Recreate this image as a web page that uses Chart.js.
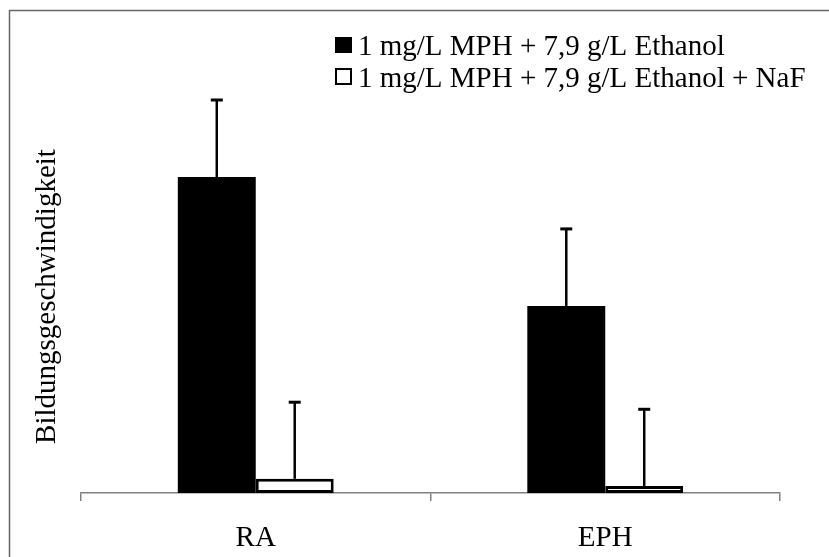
<!DOCTYPE html>
<html lang="de">
<head>
<meta charset="UTF-8">
<title>Bildungsgeschwindigkeit</title>
<script src="https://cdn.jsdelivr.net/npm/chart.js"></script>
<style>
    html, body { margin: 0; padding: 0; background: #fff; }
    #wrap { width: 829px; height: 557px; }
</style>
</head>
<body>
<div id="wrap"><canvas id="grafico"></canvas></div>
<script>
    // Werte (y-Achse ohne Skala, 0..100)
    var kategorien = ['RA', 'EPH'];
    var serieNamen = ['1 mg/L MPH + 7,9 g/L Ethanol', '1 mg/L MPH + 7,9 g/L Ethanol + NaF'];
    var ohneNaF = [80.4, 47.6];
    var mitNaF = [3.6, 1.8];
    var fehlerOhneNaF = [19.6, 19.6];
    var fehlerMitNaF = [19.5, 19.5];

    var schrift = "'Liberation Serif', 'Times New Roman', serif";

    // Fehlerbalken (nur nach oben)
    var fehlerbalken = {
        id: 'fehlerbalken',
        afterDatasetsDraw(chart) {
            var ctx = chart.ctx;
            var y = chart.scales.y;
            ctx.save();
            ctx.strokeStyle = '#000';
            chart.data.datasets.forEach((ds, i) => {
                var meta = chart.getDatasetMeta(i);
                meta.data.forEach((bar, j) => {
                    var topo = y.getPixelForValue(ds.data[j] + ds.fehler[j]);
                    ctx.lineWidth = 2.5;
                    ctx.beginPath();
                    ctx.moveTo(bar.x, bar.y);
                    ctx.lineTo(bar.x, topo);
                    ctx.stroke();
                    ctx.lineWidth = 3;
                    ctx.beginPath();
                    ctx.moveTo(bar.x - 6, topo);
                    ctx.lineTo(bar.x + 6, topo);
                    ctx.stroke();
                });
            });
            ctx.restore();
        }
    };

    // Legende oben rechts + Rahmen
    var legendeRahmen = {
        id: 'legendeRahmen',
        afterDraw(chart) {
            var ctx = chart.ctx;
            ctx.save();
            ctx.strokeStyle = '#666';
            ctx.lineWidth = 1.5;
            ctx.strokeRect(9.5, 10.5, 900, 700);

            ctx.font = '29px ' + schrift;
            ctx.textBaseline = 'alphabetic';
            chart.data.datasets.forEach((ds, i) => {
                var yb = 55 + i * 32;
                if (i == 0) {
                    ctx.fillStyle = '#000';
                    ctx.fillRect(335, yb - 18, 17, 16);
                } else {
                    ctx.fillStyle = '#fff';
                    ctx.fillRect(336, yb - 18, 15, 15);
                    ctx.lineWidth = 2;
                    ctx.strokeStyle = '#000';
                    ctx.strokeRect(336, yb - 18, 15, 15);
                }
                ctx.fillStyle = '#000';
                ctx.fillText(ds.label, 358, yb);
            });
            ctx.restore();
        }
    };

    new Chart(document.getElementById('grafico').getContext('2d'), {
        type: 'bar',
        data: {
            labels: kategorien,
            datasets: [{
                label: serieNamen[0],
                data: ohneNaF,
                fehler: fehlerOhneNaF,
                backgroundColor: '#000',
                borderColor: '#000',
                borderWidth: 0
            }, {
                label: serieNamen[1],
                data: mitNaF,
                fehler: fehlerMitNaF,
                backgroundColor: '#fff',
                borderColor: '#000',
                borderWidth: 3,
                borderSkipped: false
            }]
        },
        options: {
            responsive: true,
            maintainAspectRatio: false,
            animation: false,
            barPercentage: 1.0,
            categoryPercentage: 0.446,
            layout: {
                padding: { top: 100, right: 49, bottom: 2, left: 0 }
            },
            plugins: {
                legend: { display: false },
                tooltip: { enabled: false }
            },
            scales: {
                x: {
                    afterFit: function (scale) { scale.height = 62; },
                    grid: {
                        display: true,
                        drawOnChartArea: false,
                        drawTicks: true,
                        tickLength: 8,
                        color: '#808080',
                        lineWidth: 1.5
                    },
                    border: { display: true, color: '#808080', width: 1.5 },
                    ticks: {
                        padding: 20,
                        color: '#000',
                        font: { family: schrift, size: 29 }
                    }
                },
                y: {
                    afterFit: function (scale) { scale.width = 81; },
                    min: 0,
                    max: 100,
                    grid: { display: false },
                    border: { display: false },
                    ticks: { display: false },
                    title: {
                        display: true,
                        text: 'Bildungsgeschwindigkeit',
                        color: '#000',
                        font: { family: schrift, size: 29 },
                        padding: { top: 30, bottom: 17 }
                    }
                }
            }
        },
        plugins: [fehlerbalken, legendeRahmen]
    });
</script>
</body>
</html>
